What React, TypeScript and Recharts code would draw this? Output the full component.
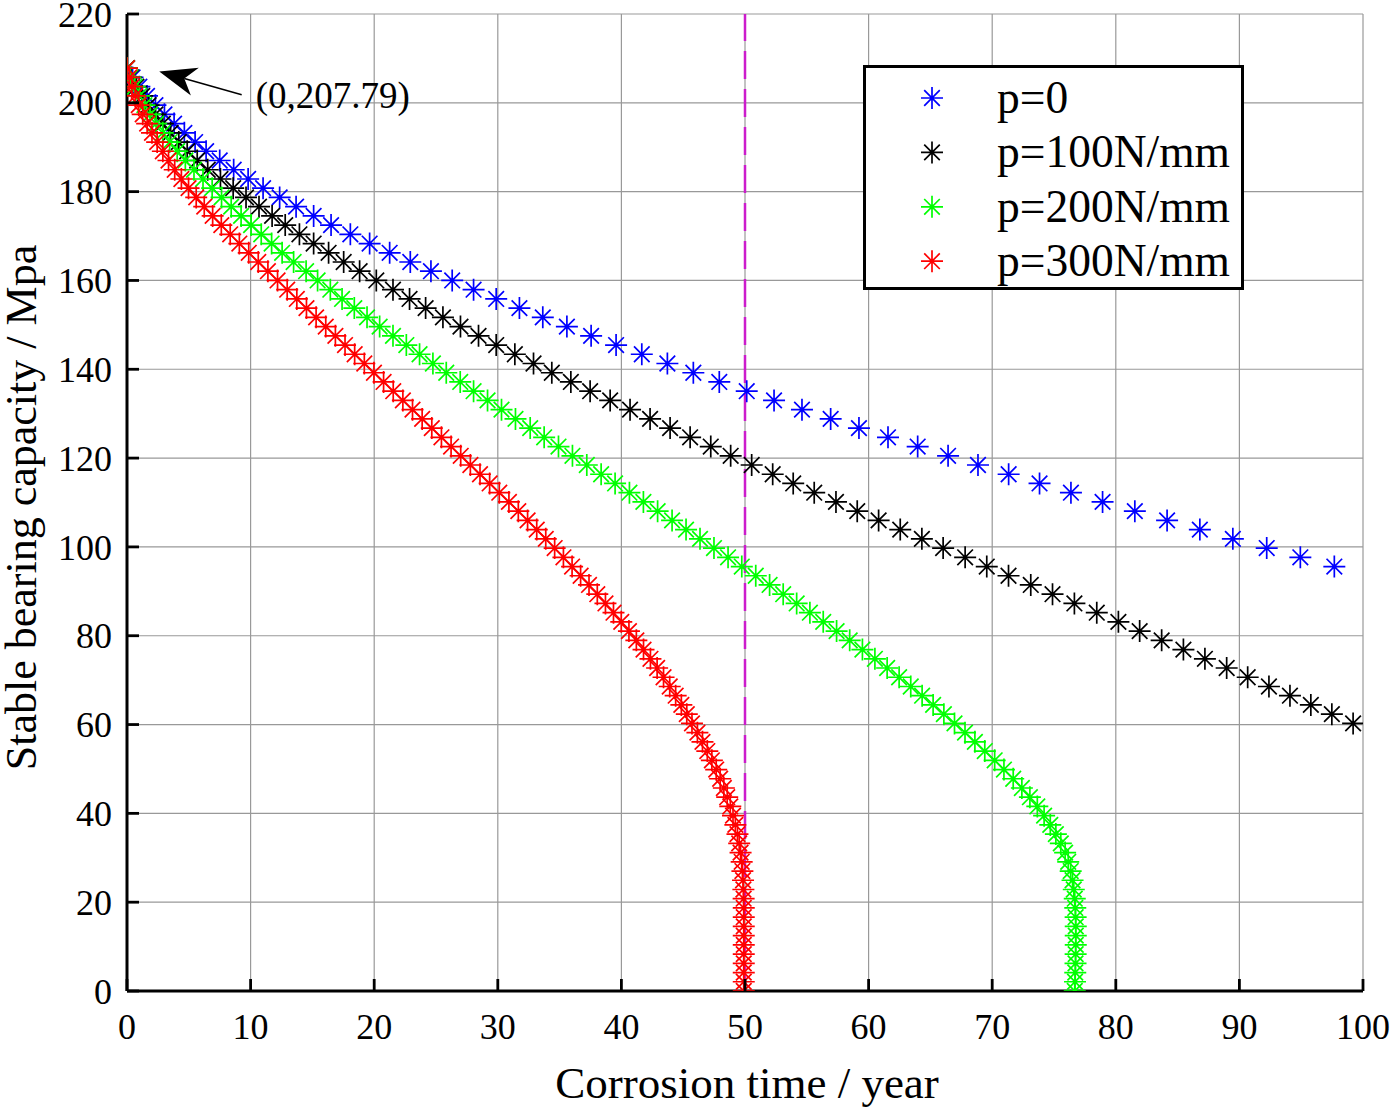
import React from 'react'
import {
  CartesianGrid,
  Label,
  Legend,
  ReferenceLine,
  Scatter,
  ScatterChart,
  XAxis,
  YAxis,
} from 'recharts'

const FONT = '"Liberation Serif", "Times New Roman", serif'

// capacity levels shared by every curve (one marker per level)
const levels = [
  207.79, 205.71, 203.63, 201.55, 199.48, 197.4, 195.32, 193.24, 191.17, 189.09,
  187.01, 184.93, 182.85, 180.78, 178.7, 176.62, 174.54, 172.47, 170.39, 168.31,
  166.23, 164.15, 162.08, 160.0, 157.92, 155.84, 153.77, 151.69, 149.61, 147.53,
  145.45, 143.38, 141.3, 139.22, 137.14, 135.06, 132.99, 130.91, 128.83, 126.75,
  124.68, 122.6, 120.52, 118.44, 116.36, 114.29, 112.21, 110.13, 108.05, 105.97,
  103.9, 101.82, 99.74, 97.66, 95.58, 93.51, 91.43, 89.35, 87.27, 85.19,
  83.12, 81.04, 78.96, 76.88, 74.8, 72.73, 70.65, 68.57, 66.49, 64.42,
  62.34, 60.26, 58.18, 56.1, 54.03, 51.95, 49.87, 47.79, 45.71, 43.64,
  41.56, 39.48, 37.4, 35.33, 33.25, 31.17, 29.09, 27.01, 24.94, 22.86,
  20.78, 18.7, 16.62, 14.55, 12.47, 10.39, 8.31, 6.23, 4.16, 2.08, 0,
]

// corrosion time (year) of each marker, per load case
const tP0 = [
  0, 0.45, 1.0, 1.62, 2.3, 3.03, 3.81, 4.64, 5.51, 6.4,
  7.5, 8.63, 9.8, 11.01, 12.35, 13.68, 15.1, 16.51, 18.07, 19.63,
  21.25, 22.92, 24.59, 26.31, 28.04, 29.87, 31.75, 33.64, 35.59, 37.55,
  39.57, 41.65, 43.72, 45.82, 47.92, 50.14, 52.35, 54.61, 56.93, 59.22,
  61.57, 63.97, 66.43, 68.85, 71.33, 73.83, 76.37, 78.93, 81.54, 84.15,
  86.8, 89.47, 92.21, 94.93, 97.68,
]
const tP100 = [
  0, 0.34, 0.76, 1.23, 1.75, 2.3, 2.9, 3.53, 4.19, 4.87,
  5.68, 6.53, 7.56, 8.59, 9.63, 10.68, 11.74, 12.8, 13.95, 15.1,
  16.31, 17.53, 18.82, 20.17, 21.52, 22.86, 24.16, 25.56, 26.98, 28.44,
  29.87, 31.38, 32.89, 34.37, 35.91, 37.47, 39.09, 40.7, 42.32, 43.94,
  45.56, 47.23, 48.84, 50.54, 52.24, 53.9, 55.6, 57.36, 59.08, 60.81,
  62.56, 64.31, 66.03, 67.81, 69.56, 71.32, 73.12, 74.88, 76.65, 78.46,
  80.21, 81.93, 83.71, 85.47, 87.21, 88.97, 90.67, 92.39, 94.09, 95.78,
  97.48, 99.2,
]
const tP200 = [
  0, 0.28, 0.62, 0.99, 1.41, 1.87, 2.36, 2.89, 3.45, 4.06,
  4.72, 5.42, 6.15, 6.89, 7.65, 8.43, 9.23, 10.04, 10.86, 11.7,
  12.55, 13.48, 14.49, 15.42, 16.45, 17.4, 18.39, 19.42, 20.44, 21.52,
  22.6, 23.67, 24.75, 25.83, 26.96, 28.04, 29.17, 30.3, 31.43, 32.62,
  33.75, 34.91, 36.04, 37.2, 38.36, 39.49, 40.65, 41.78, 42.93, 44.1,
  45.23, 46.36, 47.49, 48.63, 49.74, 50.87, 51.99, 53.09, 54.18, 55.25,
  56.33, 57.41, 58.47, 59.5, 60.51, 61.5, 62.47, 63.41, 64.33, 65.22,
  66.09, 66.95, 67.8, 68.6, 69.4, 70.2, 70.95, 71.7, 72.4, 73.05,
  73.65, 74.2, 74.7, 75.15, 75.55, 75.9, 76.15, 76.35, 76.5, 76.6,
  76.68, 76.72, 76.75, 76.76, 76.76, 76.76, 76.75, 76.74, 76.72, 76.7, 76.68,
]
const tP300 = [
  0, 0.18, 0.4, 0.66, 0.95, 1.27, 1.63, 2.02, 2.44, 2.9,
  3.36, 3.86, 4.4, 4.98, 5.6, 6.25, 6.93, 7.63, 8.35, 9.09,
  9.85, 10.62, 11.4, 12.18, 12.96, 13.74, 14.52, 15.3, 16.08, 16.86,
  17.64, 18.42, 19.2, 19.98, 20.76, 21.54, 22.32, 23.1, 23.88, 24.66,
  25.44, 26.22, 27.0, 27.78, 28.56, 29.34, 30.12, 30.9, 31.66, 32.41,
  33.15, 33.88, 34.6, 35.31, 36.01, 36.7, 37.38, 38.05, 38.71, 39.36,
  39.99, 40.61, 41.21, 41.79, 42.35, 42.89, 43.41, 43.91, 44.39, 44.85,
  45.29, 45.71, 46.15, 46.56, 46.95, 47.32, 47.67, 47.99, 48.29, 48.56,
  48.81, 49.03, 49.22, 49.39, 49.53, 49.64, 49.73, 49.79, 49.84, 49.87,
  49.89, 49.9, 49.9, 49.9, 49.9, 49.9, 49.9, 49.9, 49.9, 49.9, 49.9,
]

const xTicks = [0, 10, 20, 30, 40, 50, 60, 70, 80, 90, 100]
const yTicks = [0, 20, 40, 60, 80, 100, 120, 140, 160, 180, 200, 220]

const limitYear = 50
const annotation = { text: '(0,207.79)', tail: { x: 9.28, y: 201.8 }, tip: { x: 2.61, y: 207.05 } }

const series = [
  { name: 'p=0', color: '#0000ff', times: tP0 },
  { name: 'p=100N/mm', color: '#000000', times: tP100 },
  { name: 'p=200N/mm', color: '#00ff00', times: tP200 },
  { name: 'p=300N/mm', color: '#ff0000', times: tP300 },
]

const toPoints = (times: number[]) => times.map((t, i) => ({ x: t, y: levels[i] }))

function starPath(cx: number, cy: number) {
  const r = 11
  const d = 7.8
  return (
    `M${cx - r},${cy}H${cx + r}M${cx},${cy - r}V${cy + r}` +
    `M${cx - d},${cy - d}L${cx + d},${cy + d}M${cx - d},${cy + d}L${cx + d},${cy - d}`
  )
}

const makeStar = (color: string) => (props: any) => {
  const { cx, cy } = props
  if (cx == null || cy == null) return <g />
  return <path d={starPath(cx, cy)} stroke={color} strokeWidth={1.7} fill="none" />
}

const BottomTick = ({ x, y, payload }: any) => (
  <g>
    <line x1={x} y1={y} x2={x} y2={y - 12} stroke="#000" strokeWidth={2.8} />
    <text x={x} y={y + 48} textAnchor="middle" fontFamily={FONT} fontSize={36} fill="#000">
      {payload.value}
    </text>
  </g>
)

const LeftTick = ({ x, y, payload }: any) => (
  <g>
    <line x1={x} y1={y} x2={x + 12} y2={y} stroke="#000" strokeWidth={2.8} />
    <text x={x - 15} y={y} dy="0.35em" textAnchor="end" fontFamily={FONT} fontSize={36} fill="#000">
      {payload.value}
    </text>
  </g>
)

const TopTick = ({ x, y }: any) => (
  <line x1={x} y1={y} x2={x} y2={y + 12} stroke="#000" strokeWidth={2.8} />
)

const RightTick = ({ x, y }: any) => (
  <line x1={x} y1={y} x2={x - 12} y2={y} stroke="#000" strokeWidth={2.8} />
)

function ArrowShape(props: any) {
  const { x1, y1, x2, y2 } = props
  const dx = x2 - x1
  const dy = y2 - y1
  const len = Math.hypot(dx, dy) || 1
  const ux = dx / len
  const uy = dy / len
  const nx = -uy
  const ny = ux
  const headLen = 37
  const halfW = 14.5
  const notch = 26
  const bx = x2 - ux * headLen
  const by = y2 - uy * headLen
  const qx = x2 - ux * notch
  const qy = y2 - uy * notch
  const pts = [
    [x2, y2],
    [bx + nx * halfW, by + ny * halfW],
    [qx, qy],
    [bx - nx * halfW, by - ny * halfW],
  ]
    .map((p) => p.join(','))
    .join(' ')
  return (
    <g>
      <line x1={x1} y1={y1} x2={qx} y2={qy} stroke="#000" strokeWidth={1.5} />
      <polygon points={pts} fill="#000" />
      <text x={x1 + 14} y={y1 + 1} dy="0.34em" fontFamily={FONT} fontSize={37} fill="#000">
        {annotation.text}
      </text>
    </g>
  )
}

function LegendBox(props: any) {
  const payload = props.payload && props.payload.length ? props.payload : []
  const items = series.map((s) => {
    const hit = payload.find((p: any) => p.value === s.name)
    return { name: s.name, color: hit?.color || s.color }
  })
  return (
    <svg width={381} height={225} style={{ display: 'block' }}>
      <rect x={1.5} y={1.5} width={378} height={222} fill="#fff" stroke="#000" strokeWidth={3} />
      {items.map((it, i) => {
        const cy = 33 + i * 54.4
        return (
          <g key={it.name}>
            <path d={starPath(69, cy)} stroke={it.color} strokeWidth={1.7} fill="none" />
            <text x={134} y={cy + 15} fontFamily={FONT} fontSize={45.5} fill="#000">
              {it.name}
            </text>
          </g>
        )
      })}
    </svg>
  )
}

export default function App() {
  return (
    <div style={{ position: 'absolute', left: 0, top: 0, width: 1393, height: 1110, background: '#fff' }}>
      <ScatterChart width={1393} height={1110} margin={{ top: 14, right: 30, bottom: 0, left: 0 }}>
        <CartesianGrid stroke="#999999" strokeWidth={1.2} />
        <XAxis
          dataKey="x"
          type="number"
          domain={[0, 100]}
          ticks={xTicks}
          interval={0}
          allowDataOverflow
          height={119}
          tickSize={0}
          tickMargin={0}
          tickLine={false}
          tick={BottomTick}
          axisLine={{ stroke: '#000', strokeWidth: 3 }}
        >
          <Label
            content={(p: any) => {
              const vb = p.viewBox || { x: 127, y: 991, width: 1236, height: 119 }
              return (
                <text x={vb.x + vb.width / 2 + 2} y={vb.y + 107} textAnchor="middle" fontFamily={FONT} fontSize={45} fill="#000">
                  Corrosion time / year
                </text>
              )
            }}
          />
        </XAxis>
        <XAxis
          xAxisId="top"
          orientation="top"
          dataKey="x"
          type="number"
          domain={[0, 100]}
          ticks={xTicks}
          interval={0}
          allowDataOverflow
          height={0}
          tickSize={0}
          tickMargin={0}
          tickLine={false}
          tick={TopTick}
          axisLine={{ stroke: '#000', strokeWidth: 3 }}
        />
        <YAxis
          dataKey="y"
          type="number"
          domain={[0, 220]}
          ticks={yTicks}
          interval={0}
          allowDataOverflow
          width={127}
          tickSize={0}
          tickMargin={0}
          tickLine={false}
          tick={LeftTick}
          axisLine={{ stroke: '#000', strokeWidth: 3 }}
        >
          <Label
            content={(p: any) => {
              const vb = p.viewBox || { x: 0, y: 14, width: 127, height: 977 }
              const cy = vb.y + vb.height / 2 + 5
              return (
                <text
                  x={36}
                  y={cy}
                  transform={`rotate(-90, 36, ${cy})`}
                  textAnchor="middle"
                  fontFamily={FONT}
                  fontSize={44}
                  fill="#000"
                >
                  Stable bearing capacity / Mpa
                </text>
              )
            }}
          />
        </YAxis>
        <YAxis
          yAxisId="right"
          orientation="right"
          dataKey="y"
          type="number"
          domain={[0, 220]}
          ticks={yTicks}
          interval={0}
          allowDataOverflow
          width={0}
          tickSize={0}
          tickMargin={0}
          tickLine={false}
          tick={RightTick}
          axisLine={{ stroke: '#000', strokeWidth: 3 }}
        />
        {series.map((s) => (
          <Scatter
            key={s.name}
            name={s.name}
            data={toPoints(s.times)}
            fill={s.color}
            shape={makeStar(s.color)}
            isAnimationActive={false}
          />
        ))}
        <ReferenceLine x={limitYear} stroke="#cc1ccc" strokeWidth={2.5} strokeDasharray="28 10" />
        <ReferenceLine
          segment={[annotation.tail, annotation.tip]}
          shape={ArrowShape}
          ifOverflow="visible"
        />
        <Legend
          layout="vertical"
          align="center"
          verticalAlign="middle"
          content={LegendBox}
          wrapperStyle={{ left: 863, top: 65, width: 381, height: 225 }}
        />
      </ScatterChart>
    </div>
  )
}
